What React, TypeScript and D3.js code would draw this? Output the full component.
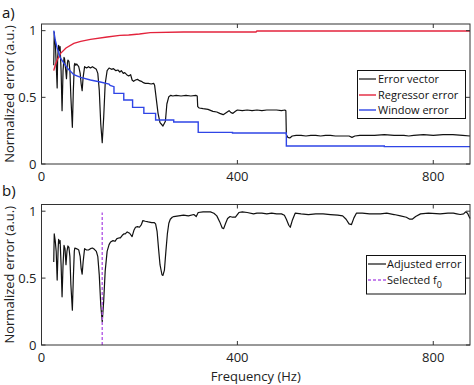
import React from "react";
import * as d3 from "d3";

const xTicks = [0, 400, 800];
const yTicks = [0, 0.5, 1];

const errorVector: [number, number][] = [[25,0.74],[26,0.99],[27,0.9],[28,0.93],[30,0.75],[32,0.57],[33,0.8],[35,0.89],[37,0.85],[38,0.88],[40,0.7],[42,0.40],[44,0.7],[46,0.8],[47,0.79],[49,0.72],[51,0.64],[53,0.76],[54,0.78],[56,0.77],[58,0.7],[60,0.5],[63,0.275],[65,0.55],[67,0.74],[68,0.755],[70,0.74],[72,0.75],[76,0.73],[79,0.68],[81,0.6],[83,0.55],[85,0.65],[88,0.73],[92,0.72],[96,0.73],[100,0.72],[104,0.73],[108,0.72],[112,0.71],[115,0.68],[118,0.55],[121,0.3],[124,0.16],[127,0.35],[130,0.6],[134,0.7],[138,0.72],[143,0.71],[147,0.715],[152,0.70],[156,0.705],[160,0.69],[163,0.70],[167,0.68],[170,0.685],[174,0.67],[178,0.66],[182,0.67],[185,0.63],[188,0.62],[192,0.63],[196,0.635],[200,0.625],[204,0.62],[208,0.61],[212,0.605],[218,0.605],[224,0.60],[229,0.605],[231,0.59],[234,0.5],[238,0.38],[242,0.31],[248,0.285],[253,0.32],[256,0.45],[260,0.505],[264,0.515],[268,0.51],[275,0.515],[285,0.51],[295,0.515],[305,0.51],[315,0.515],[318,0.51],[319,0.43],[322,0.42],[330,0.415],[340,0.41],[350,0.395],[358,0.39],[364,0.38],[371,0.37],[377,0.385],[383,0.40],[387,0.385],[391,0.38],[396,0.395],[400,0.405],[410,0.40],[420,0.405],[430,0.40],[440,0.405],[450,0.40],[460,0.405],[470,0.405],[480,0.405],[490,0.40],[497,0.405],[499,0.40],[500,0.22],[503,0.2],[507,0.195],[512,0.21],[520,0.215],[530,0.215],[540,0.21],[550,0.215],[560,0.215],[570,0.21],[580,0.215],[590,0.215],[600,0.21],[610,0.21],[620,0.21],[628,0.21],[634,0.2],[640,0.21],[650,0.215],[660,0.215],[670,0.215],[680,0.215],[700,0.22],[720,0.215],[740,0.215],[750,0.21],[760,0.215],[780,0.22],[800,0.215],[820,0.22],[840,0.22],[860,0.215],[875,0.21]];

const regressorError: [number, number][] = [[25,0.70],[28,0.74],[32,0.78],[39,0.83],[50,0.87],[66,0.905],[80,0.92],[100,0.935],[134,0.952],[160,0.965],[178,0.968],[200,0.975],[222,0.985],[290,0.99],[350,0.99],[438,0.99],[440,0.998],[875,0.998]];

const windowError: [number, number][] = [[25,1.0],[28,0.93],[32,0.87],[38,0.80],[46,0.755],[55,0.71],[66,0.67],[80,0.65],[100,0.63],[120,0.615],[138,0.60],[140,0.59],[148,0.58],[148,0.53],[168,0.53],[168,0.48],[186,0.48],[186,0.425],[209,0.425],[209,0.38],[233,0.38],[233,0.33],[270,0.33],[270,0.315],[320,0.315],[320,0.237],[390,0.237],[390,0.233],[500,0.233],[500,0.135],[700,0.135],[700,0.13],[875,0.13]];

const adjustedError: [number, number][] = [[25,0.62],[26,0.83],[28,0.78],[30,0.7],[32,0.485],[34,0.72],[35,0.79],[37,0.76],[38,0.78],[40,0.6],[42,0.36],[44,0.6],[46,0.745],[48,0.72],[50,0.60],[52,0.70],[54,0.74],[56,0.73],[58,0.66],[60,0.45],[63,0.26],[65,0.5],[67,0.7],[68,0.725],[71,0.72],[74,0.715],[76,0.71],[79,0.66],[81,0.57],[83,0.53],[85,0.62],[88,0.72],[92,0.71],[96,0.71],[100,0.72],[104,0.725],[108,0.715],[112,0.70],[115,0.66],[118,0.52],[121,0.3],[124,0.175],[127,0.33],[130,0.55],[134,0.7],[138,0.75],[141,0.77],[146,0.78],[150,0.775],[154,0.795],[158,0.80],[161,0.80],[165,0.82],[168,0.83],[171,0.83],[175,0.845],[180,0.835],[185,0.81],[189,0.86],[192,0.88],[196,0.885],[200,0.88],[204,0.9],[207,0.93],[212,0.925],[218,0.92],[225,0.915],[230,0.915],[233,0.905],[236,0.85],[239,0.72],[242,0.6],[246,0.525],[248,0.52],[251,0.56],[254,0.7],[257,0.83],[260,0.91],[263,0.94],[267,0.955],[270,0.96],[280,0.965],[290,0.97],[300,0.965],[311,0.975],[316,0.96],[320,0.99],[330,0.995],[345,0.995],[352,0.985],[358,0.965],[364,0.92],[369,0.875],[372,0.87],[376,0.91],[380,0.945],[385,0.96],[390,0.955],[396,0.955],[403,0.99],[410,0.995],[420,0.99],[433,0.98],[440,0.985],[450,0.985],[460,0.98],[470,0.985],[480,0.98],[490,0.98],[496,0.97],[500,0.94],[505,0.895],[508,0.88],[512,0.93],[518,0.985],[530,0.98],[545,0.975],[560,0.98],[575,0.98],[590,0.975],[605,0.97],[615,0.965],[622,0.94],[628,0.905],[633,0.90],[638,0.95],[643,0.985],[655,0.985],[670,0.98],[692,0.98],[705,0.985],[720,0.975],[733,0.965],[745,0.955],[752,0.94],[757,0.94],[764,0.96],[774,0.98],[790,0.985],[814,0.98],[830,0.985],[841,0.985],[848,0.98],[855,0.975],[862,0.98],[866,0.995],[870,0.985],[875,0.945]];

const selectedF0 = 124;
const selectedRange = [0, 0.99];

const FONT = "'Open Sans', 'Liberation Sans', Arial, sans-serif";
const AXIS = "#333";
const X0 = 41.5, X1 = 470;

const x = d3.scaleLinear().domain([0, 875]).range([X0, X1]);

function Panel({ top, bottom, children }: { top: number; bottom: number; children: (y: d3.ScaleLinear<number, number>) => React.ReactNode }) {
  const y = d3.scaleLinear().domain([0, 1.05]).range([bottom, top]);
  const tl = 4;
  return (
    <g>
      {children(y)}
      <rect x={X0} y={top} width={X1 - X0} height={bottom - top} fill="none" stroke={AXIS} strokeWidth={1} />
      {xTicks.map((t) => (
        <g key={"x" + t}>
          <line x1={x(t)} x2={x(t)} y1={bottom} y2={bottom - tl} stroke={AXIS} />
          <line x1={x(t)} x2={x(t)} y1={top} y2={top + tl} stroke={AXIS} />
          <text x={x(t)} y={bottom + 17} textAnchor="middle" fontSize={13} fill="#222" fontFamily={FONT}>{t}</text>
        </g>
      ))}
      {yTicks.map((t) => (
        <g key={"y" + t}>
          <line x1={X0} x2={X0 + tl} y1={y(t)} y2={y(t)} stroke={AXIS} />
          <line x1={X1} x2={X1 - tl} y1={y(t)} y2={y(t)} stroke={AXIS} />
          <text x={X0 - 5} y={y(t) + 4.5} textAnchor="end" fontSize={13} fill="#222" fontFamily={FONT}>{t}</text>
        </g>
      ))}
      <text transform={`translate(14,${(top + bottom) / 2}) rotate(-90)`} textAnchor="middle" fontSize={13} fill="#222" fontFamily={FONT}>Normalized error (a.u.)</text>
    </g>
  );
}

export default function App() {
  const lineGen = (y: d3.ScaleLinear<number, number>) =>
    d3.line<[number, number]>().x((d) => x(d[0])).y((d) => y(d[1]));
  return (
    <svg width={474} height={385} style={{ position: "absolute", left: 0, top: 0, background: "#fff" }}>
      <rect width={474} height={385} fill="#fff" />
      <text x={2} y={18} fontSize={15} fill="#111" fontFamily={FONT}>a)</text>
      <text x={2} y={196} fontSize={15} fill="#111" fontFamily={FONT}>b)</text>
      <Panel top={24} bottom={164}>
        {(y) => (
          <g>
            <path d={lineGen(y)(errorVector) || ""} fill="none" stroke="#111" strokeWidth={1.2} strokeLinejoin="round" />
            <path d={lineGen(y)(regressorError) || ""} fill="none" stroke="#e3233c" strokeWidth={1.4} />
            <path d={lineGen(y)(windowError) || ""} fill="none" stroke="#2f45e6" strokeWidth={1.4} />
          </g>
        )}
      </Panel>
      <Panel top={204.5} bottom={345}>
        {(y) => (
          <g>
            <path d={lineGen(y)(adjustedError) || ""} fill="none" stroke="#111" strokeWidth={1.2} strokeLinejoin="round" />
            <line x1={x(selectedF0)} x2={x(selectedF0)} y1={y(selectedRange[0])} y2={y(selectedRange[1])} stroke="#b35be6" strokeWidth={1.4} strokeDasharray="3,2" />
          </g>
        )}
      </Panel>
      {/* legend a */}
      <g fontFamily={FONT} fontSize={11} fill="#111">
        <rect x={357.5} y={70.5} width={108} height={48} fill="#fff" stroke="#111" />
        <line x1={359} x2={376} y1={79} y2={79} stroke="#111" strokeWidth={1.2} />
        <text x={378} y={83}>Error vector</text>
        <line x1={359} x2={376} y1={95} y2={95} stroke="#e3233c" strokeWidth={1.4} />
        <text x={378} y={99}>Regressor error</text>
        <line x1={359} x2={376} y1={110} y2={110} stroke="#2f45e6" strokeWidth={1.4} />
        <text x={378} y={114}>Window error</text>
      </g>
      {/* legend b */}
      <g fontFamily={FONT} fontSize={11} fill="#111">
        <rect x={366.5} y={255.5} width={99} height={38.5} fill="#fff" stroke="#111" />
        <line x1={368} x2={386} y1={264} y2={264} stroke="#111" strokeWidth={1.2} />
        <text x={387} y={268}>Adjusted error</text>
        <line x1={368} x2={386} y1={280} y2={280} stroke="#b35be6" strokeWidth={1.4} strokeDasharray="3,2" />
        <text x={387} y={284}>Selected f<tspan fontSize={9} dy={4}>0</tspan></text>
      </g>
      <text x={(X0 + X1) / 2} y={381} textAnchor="middle" fontSize={13} fill="#222" fontFamily={FONT}>Frequency (Hz)</text>
    </svg>
  );
}
